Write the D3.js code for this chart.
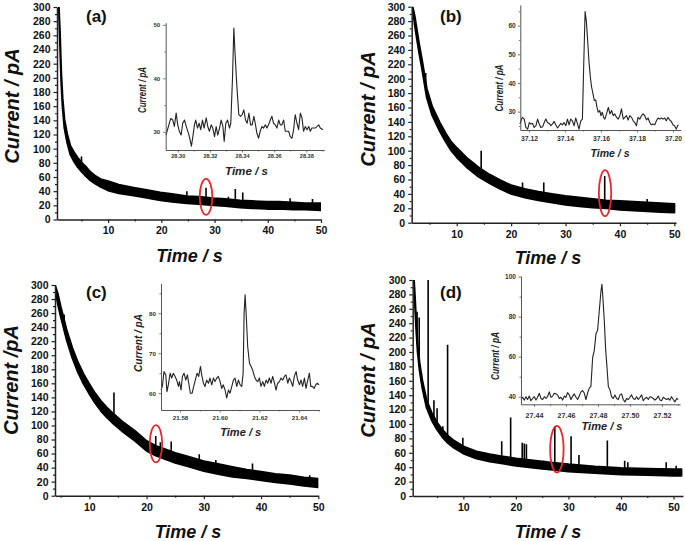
<!DOCTYPE html>
<html><head><meta charset="utf-8">
<script src="https://cdn.jsdelivr.net/npm/d3@7"></script>
<style>body{margin:0;background:#fff}svg{display:block}text{font-family:"Liberation Sans",Arial,sans-serif}</style>
</head><body><svg id="chart" width="685" height="541"></svg>
<script>
// ---------------- main traces (band envelope) ----------------
const aTime  = [0.75,0.95,1.2,1.45,1.8,2.3,2.9,3.6,4.3,5.1,6.0,6.7,7.5,8.6,10,12,14.8,17,19.8,22,24.8,27,29.8,32,34.8,37,39.8,42,44.8,47,50];
const aUpper = [300,264,206,171,141,121,104,95,87,80,73,67,62,57,54,49,45,42,38,36,33,32,30,29,27,26,25,25,24,23,23];
const aLower = [300,252,194,159,129,109,92,82,74,67,60,55,51,46,41,37,34,31,27,25,23,22,20,19,17,16,15,15,14,14,13];
const aSpikeTime = [5.0,15.9,21.7,24.8,28.4,32.6,33.9,35.3,44.2,48.4];
const aSpikePeak = [89,44,37,40,45,32,43,38,30,29];

const bTime  = [1.9,2.3,2.65,3.1,3.6,4.5,5.5,6.9,8,9,10,12,14,16,18,20,22.5,25,27.5,30,32.5,35,37.5,40,42.5,45,47.5,50];
const bUpper = [300,286,269,248,227,186,161,139,124,112,104,89,77,67,59,52,47,43,40,37,35,33,31,30,29,28,27,26];
const bLower = [300,274,257,236,215,174,149,127,112,100,91,76,64,55,47,40,35,31,28,25,23,21,20,18,17,16,15,14];
const bSpikeTime = [4.3,8.9,14.5,15.5,22.1,26.0,37.2,45.0];
const bSpikePeak = [208,109,100,66,56,56,65,33];

const cTime  = [4.0,4.5,5,6,7,8,9,10,11,12,13,14,16,18,20,21.6,23,25,27.5,30,32.5,35,37.5,40,42.5,45,47.5,50];
const cUpper = [300,287,269,237,211,190,173,159,146,135,126,118,104,92,78,71,67,61,55,49,45,41,37,34,31,29,26,24];
const cLower = [296,273,255,223,197,176,159,145,132,121,112,104,90,78,64,57,53,47,41,35,31,27,25,22,19,17,14,12];
const cSpikeTime = [5.6,7.9,10.0,14.3,17.4,21.6,22.4,24.3,29.2,32.1,38.5,48.5];
const cSpikePeak = [258,188,157,147,93,85,76,77,59,51,46,29];

const dTime  = [0.6,0.8,1.0,1.3,1.7,2.2,3.0,4.0,5.0,6.0,7.0,8.0,10,12.5,15,17.5,20,22.5,25,27.5,30,35,40,45,50,51.5];
const dUpper = [300,275,245,210,183,160,133,115,102,92,84,78,69,62,58,55,52,50,48,46,44,41,39,38,37,37];
const dLower = [300,265,235,200,173,150,123,105,92,82,74,68,59,52,48,45,42,40,38,36,34,32,30,29,28,28];
const dSpikeTime = [1.2,1.6,2.0,2.6,3.3,4.4,5.0,6.1,7.0,8.0,8.5,9.9,14.2,17.3,19.0,21.2,21.6,22.0,25.3,27.4,30.5,32.0,37.4,40.7,41.3,48.6,50.5];
const dSpikePeak = [256,248,172,145,300,133,122,97,210,76,70,81,57,76,109,74,73,72,49,97,83,57,77,49,47,47,42];

// highlighted events (red ellipses), in data coordinates
const ellipseTime    = [28.4, 37.26, 21.64, 27.8];
const ellipseCurrent = [32, 41, 74, 65];

// ---------------- insets ----------------
const insetATime = [28.2927,28.2942,28.2956,28.2969,28.2979,28.2990,28.3000,28.3010,28.3021,28.3031,28.3042,28.3056,28.3066,28.3077,28.3085,28.3094,28.3104,28.3112,28.3123,28.3133,28.3143,28.3154,28.3164,28.3177,28.3187,28.3197,28.3208,28.3218,28.3229,28.3239,28.3249,28.3260,28.3270,28.3281,28.3289,28.3299,28.3310,28.3322,28.3330,28.3341,28.3349,28.3357,28.3368,28.3380,28.3391,28.3401,28.3411,28.3422,28.3432,28.3443,28.3453,28.3463,28.3474,28.3484,28.3492,28.3503,28.3513,28.3524,28.3534,28.3545,28.3555,28.3565,28.3576,28.3586,28.3596,28.3607,28.3617,28.3628,28.3638,28.3648,28.3659,28.3669,28.3680,28.3690,28.3700,28.3711,28.3721,28.3731,28.3742,28.3752,28.3763,28.3773,28.3783,28.3794,28.3804,28.3815,28.3825,28.3835,28.3846,28.3856,28.3867,28.3877,28.3887,28.3904];
const insetACurrent = [29.4,31,32.5,32.2,31,33.5,31.3,30.1,29.4,31.6,32.2,30.7,29.8,28.5,27.3,29.1,31.3,32.2,30.7,31.6,30.4,32.2,30.7,32.6,31,30.1,31.3,30.7,29.1,31,29.4,30.7,32.2,31,28.2,31.6,32.2,30.7,31.6,40.3,49.4,44.4,38.5,33.2,32.9,33.2,34.1,32.2,31.6,33.5,31.3,31.3,32.9,31.3,29.8,28.8,30.1,31,30.7,31.3,30.7,31.3,32.2,32.9,31.6,31.3,30.7,32.2,31.3,31.3,32.2,30.1,30.1,30.1,29.1,28.8,30.4,33.2,31.6,30.4,33.5,32.6,30.1,31,30.4,31,30.1,30.7,30.7,30.7,31,31.3,30.7,30.4];

const insetBTime = [37.1150,37.1163,37.1174,37.1183,37.1193,37.1202,37.1211,37.1220,37.1229,37.1239,37.1248,37.1257,37.1266,37.1276,37.1285,37.1294,37.1303,37.1312,37.1322,37.1331,37.1340,37.1349,37.1359,37.1368,37.1377,37.1386,37.1395,37.1405,37.1414,37.1423,37.1432,37.1441,37.1451,37.1460,37.1469,37.1478,37.1488,37.1497,37.1504,37.1512,37.1519,37.1526,37.1533,37.1541,37.1548,37.1556,37.1563,37.1571,37.1578,37.1585,37.1593,37.1600,37.1607,37.1615,37.1622,37.1631,37.1641,37.1650,37.1659,37.1668,37.1677,37.1687,37.1696,37.1705,37.1714,37.1724,37.1733,37.1742,37.1751,37.1760,37.1770,37.1779,37.1788,37.1797,37.1806,37.1816,37.1825,37.1834,37.1843,37.1853,37.1862,37.1871,37.1880,37.1889,37.1899,37.1908,37.1917,37.1926,37.1935,37.1945,37.1954,37.1963,37.1972,37.1982,37.1991,37.2000,37.2009,37.2018,37.2026,37.2031];
const insetBCurrent = [25.7,28,27.4,24.5,23.9,26.2,25.7,25.9,24.5,25.1,27.4,25.7,24.5,24.7,26.2,27.4,26.2,25.9,25.1,25.7,26.6,25.4,24.3,25.1,25.9,25.4,26.2,25.1,27.4,25.4,27.4,26.8,25.1,27.8,25.9,23.9,26.8,27.4,45.6,64.9,61.4,55,47.9,42.1,38.6,36.2,33.9,34.1,31.5,29.8,30.4,28.6,29.8,28,27.4,29.2,31.5,29.2,30.4,28.6,29.2,28,27.4,28.6,31,27.4,28,28.6,27.1,28.6,28,26.8,26.2,25.1,28,27.4,28.6,29.2,28.6,27.1,27.8,26.2,25.4,25.7,25.4,26.8,27.8,27.4,27.8,27.4,27.8,26.8,28,27.1,26.6,25.4,25.1,23.9,25.1,25.4];

const insetCTime = [21.5704,21.5711,21.5719,21.5728,21.5734,21.5741,21.5750,21.5758,21.5766,21.5775,21.5783,21.5792,21.5797,21.5805,21.5812,21.5820,21.5829,21.5837,21.5844,21.5852,21.5861,21.5869,21.5877,21.5886,21.5894,21.5903,21.5909,21.5918,21.5926,21.5934,21.5943,21.5951,21.5960,21.5968,21.5976,21.5985,21.5993,21.6002,21.6010,21.6018,21.6027,21.6035,21.6044,21.6052,21.6061,21.6069,21.6077,21.6086,21.6094,21.6103,21.6111,21.6118,21.6123,21.6128,21.6134,21.6141,21.6150,21.6158,21.6166,21.6175,21.6183,21.6192,21.6200,21.6208,21.6217,21.6225,21.6234,21.6242,21.6250,21.6259,21.6267,21.6276,21.6284,21.6292,21.6301,21.6309,21.6318,21.6326,21.6334,21.6343,21.6351,21.6360,21.6368,21.6376,21.6385,21.6393,21.6402,21.6410,21.6418,21.6427,21.6435,21.6444,21.6452,21.6459,21.6467,21.6476,21.6484,21.6492,21.6501];
const insetCCurrent = [60.8,61.7,65.4,64.6,60.4,62.1,65,63.8,65,64.2,63.3,61.7,62.9,60.8,64.2,65,63.3,64.6,62.5,60,60,61.7,63.3,65,64.2,66.7,64.6,62.5,61.7,63.3,62.5,63.8,62.1,63.8,62.9,63.8,64.2,62.9,61.2,62.1,60.8,58.8,60.8,60,61.7,63.3,63.8,61.7,63.3,62.1,61.7,65,80,84.6,79.2,71.7,67.5,66.7,65.8,64.2,63.3,62.9,63.8,61.7,62.9,61.7,63.3,62.5,63.8,62.5,64.2,62.5,60.8,62.5,62.9,63.8,63.3,64.2,64.6,62.5,63.8,62.9,61.7,64.2,65.4,63.3,62.1,63.3,61.7,63.8,61.2,63.3,65,61.7,61.7,61.2,62.1,62.5,62.1];

const insetDTime = [27.4319,27.4329,27.4340,27.4350,27.4360,27.4371,27.4381,27.4392,27.4402,27.4413,27.4423,27.4433,27.4444,27.4454,27.4465,27.4475,27.4485,27.4496,27.4506,27.4517,27.4527,27.4538,27.4548,27.4558,27.4569,27.4579,27.4590,27.4600,27.4610,27.4621,27.4631,27.4642,27.4652,27.4663,27.4673,27.4683,27.4694,27.4704,27.4715,27.4725,27.4735,27.4746,27.4756,27.4767,27.4777,27.4788,27.4798,27.4808,27.4819,27.4825,27.4831,27.4840,27.4848,27.4856,27.4865,27.4875,27.4885,27.4896,27.4906,27.4917,27.4927,27.4938,27.4948,27.4958,27.4969,27.4979,27.4990,27.5000,27.5010,27.5021,27.5031,27.5042,27.5052,27.5063,27.5073,27.5083,27.5094,27.5104,27.5115,27.5125,27.5135,27.5146,27.5156,27.5167,27.5177,27.5188,27.5198,27.5208,27.5219,27.5229,27.5240,27.5250,27.5260,27.5271,27.5281,27.5292,27.5302];
const insetDCurrent = [38.6,39.7,38.3,40,38.6,40.3,38,39.1,40,38.3,39.7,41.7,39.1,38.6,40,39.1,40,42.4,39.7,40.3,41.7,41.4,40.9,39.1,39.7,38.3,40.3,39.7,42,40.9,38.6,40.3,41.4,39.7,38.6,40.3,42.4,43.1,41.7,38.6,41.7,44.3,45.1,59.6,63,71.5,73.2,82.6,92.8,96.2,89.4,77.5,63.9,55.3,45.1,43.4,40,39.1,40.9,39.1,38.6,40.9,41.4,38.6,37.4,39.1,38.6,39.7,40.9,39.1,38.6,40,38.6,39.7,40.9,38,39.1,39.7,38.6,40,39.7,39.1,38.3,39.1,40.3,38.3,38,39.7,39.1,38.6,39.1,38.3,40,38.6,37.4,39.1,38.6];

// ---------------- tick values ----------------
const mainYTicks  = [0,20,40,60,80,100,120,140,160,180,200,220,240,260,280,300];
const mainYMinor  = [10,30,50,70,90,110,130,150,170,190,210,230,250,270,290];
const mainXTicks  = [10,20,30,40,50];
const mainXMinor  = [5,15,25,35,45];
const insetAXTicks = [28.30,28.32,28.34,28.36,28.38], insetAXMinor = [28.31,28.33,28.35,28.37,28.39];
const insetAYTicks = [30,40,50], insetAYMinor = [35,45];
const insetBXTicks = [37.12,37.14,37.16,37.18,37.20], insetBXMinor = [37.13,37.15,37.17,37.19];
const insetBYTicks = [30,40,50,60], insetBYMinor = [25,35,45,55,65];
const insetCXTicks = [21.58,21.60,21.62,21.64], insetCXMinor = [21.57,21.59,21.61,21.63,21.65];
const insetCYTicks = [60,70,80], insetCYMinor = [65,75,85];
const insetDXTicks = [27.44,27.46,27.48,27.50,27.52], insetDXMinor = [27.45,27.47,27.49,27.51,27.53];
const insetDYTicks = [40,60,80,100], insetDYMinor = [50,70,90];

// ---------------- layout (pixels / styles) ----------------
const panels = [
 {time:aTime, up:aUpper, lo:aLower, st:aSpikeTime, sp:aSpikePeak, xDom:[0.4,50], xR:[57,321], yR:[219.5,7],
  label:"(a)", labelXY:[86,22], yTitle:"Current / pA", yTitleXY:[12,106], xTitleXY:[189.5,262], ell:0, erx:6.3, ery:18,
  inset:{t:insetATime, v:insetACurrent, xDom:[28.2925,28.3912], yDom:[26.6,50.4], xR:[165.7,324.3], yR:[150,22.7],
   xt:insetAXTicks, xm:insetAXMinor, yt:insetAYTicks, ym:insetAYMinor, fmtX:".2f", xFont:5.6, yFont:6, xPad:1.5, yPad:3,
   xTitleXY:[246.5,175], xTitleLen:43, yTitleXY:[142,90], yTitleLen:46}},
 {time:bTime, up:bUpper, lo:bLower, st:bSpikeTime, sp:bSpikePeak, xDom:[1.73,50.3], xR:[411.7,676], yR:[222.7,6.7],
  label:"(b)", labelXY:[440,22], yTitle:"Current / pA", yTitleXY:[368,109], xTitleXY:[548,264], ell:1, erx:6.2, ery:23,
  inset:{t:insetBTime, v:insetBCurrent, xDom:[37.1152,37.2043], yDom:[23.6,67.2], xR:[520.3,680.7], yR:[130,5],
   xt:insetBXTicks, xm:insetBXMinor, yt:insetBYTicks, ym:insetBYMinor, fmtX:".2f", xFont:6.8, yFont:6.6, xPad:3.2, yPad:2,
   xTitleXY:[610,156.5], xTitleLen:39, yTitleXY:[499,88], yTitleLen:47}},
 {time:cTime, up:cUpper, lo:cLower, st:cSpikeTime, sp:cSpikePeak, xDom:[4,50], xR:[55,318.3], yR:[495.7,285],
  label:"(c)", labelXY:[86,298], yTitle:"Current /pA", yTitleXY:[11,380], xTitleXY:[188,538], ell:2, erx:6.2, ery:18.7,
  inset:{t:insetCTime, v:insetCCurrent, xDom:[21.5704,21.6502], yDom:[55.8,87.5], xR:[161,319.3], yR:[410,283.3],
   xt:insetCXTicks, xm:insetCXMinor, yt:insetCYTicks, ym:insetCYMinor, fmtX:".2f", xFont:6.2, yFont:6.2, xPad:3, yPad:2.5,
   xTitleXY:[240.7,436], xTitleLen:41, yTitleXY:[138,343], yTitleLen:58}},
 {time:dTime, up:dUpper, lo:dLower, st:dSpikeTime, sp:dSpikePeak, xDom:[0.36,51.8], xR:[412.7,683], yR:[496,280],
  label:"(d)", labelXY:[440,298], yTitle:"Current / pA", yTitleXY:[368,380], xTitleXY:[548,538], ell:3, erx:6.7, ery:23.3,
  inset:{t:insetDTime, v:insetDCurrent, xDom:[27.4319,27.5313], yDom:[36.2,100.3], xR:[521,680], yR:[404.3,276],
   xt:insetDXTicks, xm:insetDXMinor, yt:insetDYTicks, ym:insetDYMinor, fmtX:".2f", xFont:7.2, yFont:6.6, xPad:6, yPad:2.5,
   xTitleXY:[602,430], xTitleLen:41, yTitleXY:[495,356], yTitleLen:48}}
];

const svg = d3.select("#chart");
svg.append("rect").attr("width",685).attr("height",541).attr("fill","#fff");

function axisPair(g, x, y, xt, xm, yt, ym, o) {
  const xb = y.range()[0];
  const mx = g.append("g").attr("transform",`translate(0,${xb})`)
    .call(d3.axisBottom(x).tickValues(xm.filter(v=>v>=x.domain()[0]&&v<=x.domain()[1])).tickSize(o.minor).tickFormat(""));
  mx.select(".domain").remove();
  const my = g.append("g").attr("transform",`translate(${x.range()[0]},0)`)
    .call(d3.axisLeft(y).tickValues(ym.filter(v=>v>=y.domain()[0]&&v<=y.domain()[1])).tickSize(o.minor).tickFormat(""));
  my.select(".domain").remove();
  const gx = g.append("g").attr("transform",`translate(0,${xb})`)
    .call(d3.axisBottom(x).tickValues(xt).tickSize(o.major).tickSizeOuter(0).tickPadding(o.xPad).tickFormat(o.fx));
  const gy = g.append("g").attr("transform",`translate(${x.range()[0]},0)`)
    .call(d3.axisLeft(y).tickValues(yt).tickSize(o.major).tickSizeOuter(0).tickPadding(o.yPad).tickFormat(o.fy));
  [mx,my,gx,gy].forEach(s=>{
    s.selectAll("line").attr("stroke",o.color).attr("stroke-width",o.tw);
    s.selectAll(".domain").attr("stroke",o.color).attr("stroke-width",o.dw);
  });
  gx.selectAll("text").attr("font-size",o.xFont).attr("font-weight","bold").attr("fill",o.tcolor);
  gy.selectAll("text").attr("font-size",o.yFont).attr("font-weight","bold").attr("fill",o.tcolor);
}

panels.forEach((p,i)=>{
  const g = svg.append("g");
  const x = d3.scaleLinear().domain(p.xDom).range(p.xR);
  const y = d3.scaleLinear().domain([0,300]).range(p.yR);
  const cid = "clip"+i;
  svg.append("clipPath").attr("id",cid).append("rect")
    .attr("x",p.xR[0]).attr("y",p.yR[1]).attr("width",p.xR[1]-p.xR[0]).attr("height",p.yR[0]-p.yR[1]);
  const tr = g.append("g").attr("clip-path",`url(#${cid})`);
  const rows = p.time.map((t,k)=>({t, hi:p.up[k], lo:p.lo[k]}));
  tr.append("path").datum(rows)
    .attr("d", d3.area().x(d=>x(d.t)).y0(d=>y(d.lo)).y1(d=>y(d.hi)))
    .attr("fill","#000").attr("stroke","#000").attr("stroke-width",2).attr("stroke-linejoin","round");
  const loAt = d3.scaleLinear().domain(p.time).range(p.lo).clamp(true);
  tr.selectAll("line.spk").data(p.st.map((t,k)=>({t, v:p.sp[k]}))).join("line")
    .attr("x1",d=>x(d.t)).attr("x2",d=>x(d.t))
    .attr("y1",d=>y(loAt(d.t))).attr("y2",d=>y(d.v))
    .attr("stroke","#000").attr("stroke-width",1.6);

  axisPair(g, x, y, mainXTicks, mainXMinor, mainYTicks, mainYMinor,
    {minor:2, major:3.5, xPad:4, yPad:3, fx:d3.format("d"), fy:d3.format("d"), color:"#222", tcolor:"#111",
     tw:1.2, dw:1.5, xFont:10.5, yFont:10.5});

  g.append("ellipse").attr("cx",x(ellipseTime[p.ell])).attr("cy",y(ellipseCurrent[p.ell]))
    .attr("rx",p.erx).attr("ry",p.ery).attr("fill","none").attr("stroke","#e8262b").attr("stroke-width",1.8);

  g.append("text").attr("x",p.labelXY[0]).attr("y",p.labelXY[1]).text(p.label)
    .attr("font-size",17).attr("font-weight","bold").attr("fill","#111");
  g.append("text").attr("transform",`translate(${p.yTitleXY[0]},${p.yTitleXY[1]}) rotate(-90)`)
    .attr("text-anchor","middle").attr("dominant-baseline","central")
    .attr("font-size",20).attr("font-weight","bold").attr("font-style","italic").attr("fill","#111").text(p.yTitle);
  g.append("text").attr("x",p.xTitleXY[0]).attr("y",p.xTitleXY[1]).attr("text-anchor","middle")
    .attr("font-size",18).attr("font-weight","bold").attr("font-style","italic").attr("fill","#111").text("Time / s");

  const q = p.inset;
  const gi = svg.append("g");
  const xi = d3.scaleLinear().domain(q.xDom).range(q.xR);
  const yi = d3.scaleLinear().domain(q.yDom).range(q.yR);
  const n = Math.min(q.t.length, q.v.length);
  const pts = d3.range(n).map(k=>({t:q.t[k], v:q.v[k]}));
  gi.append("path").datum(pts).attr("d", d3.line().x(d=>xi(d.t)).y(d=>yi(d.v)))
    .attr("fill","none").attr("stroke","#222").attr("stroke-width",1.1).attr("stroke-linejoin","round");
  axisPair(gi, xi, yi, q.xt, q.xm, q.yt, q.ym,
    {minor:1.5, major:2.5, xPad:q.xPad, yPad:q.yPad, fx:d3.format(q.fmtX), fy:d3.format("d"), color:"#555", tcolor:"#333",
     tw:0.8, dw:1, xFont:q.xFont, yFont:q.yFont});
  gi.append("text").attr("x",q.xTitleXY[0]).attr("y",q.xTitleXY[1]).attr("text-anchor","middle")
    .attr("font-size",11).attr("font-weight","bold").attr("font-style","italic").attr("fill","#222")
    .attr("textLength",q.xTitleLen).attr("lengthAdjust","spacingAndGlyphs").text("Time / s");
  gi.append("text").attr("transform",`translate(${q.yTitleXY[0]},${q.yTitleXY[1]}) rotate(-90)`)
    .attr("text-anchor","middle").attr("dominant-baseline","central")
    .attr("font-size",10).attr("font-weight","bold").attr("font-style","italic").attr("fill","#222")
    .attr("textLength",q.yTitleLen).attr("lengthAdjust","spacingAndGlyphs").text("Current / pA");
});
</script></body></html>
